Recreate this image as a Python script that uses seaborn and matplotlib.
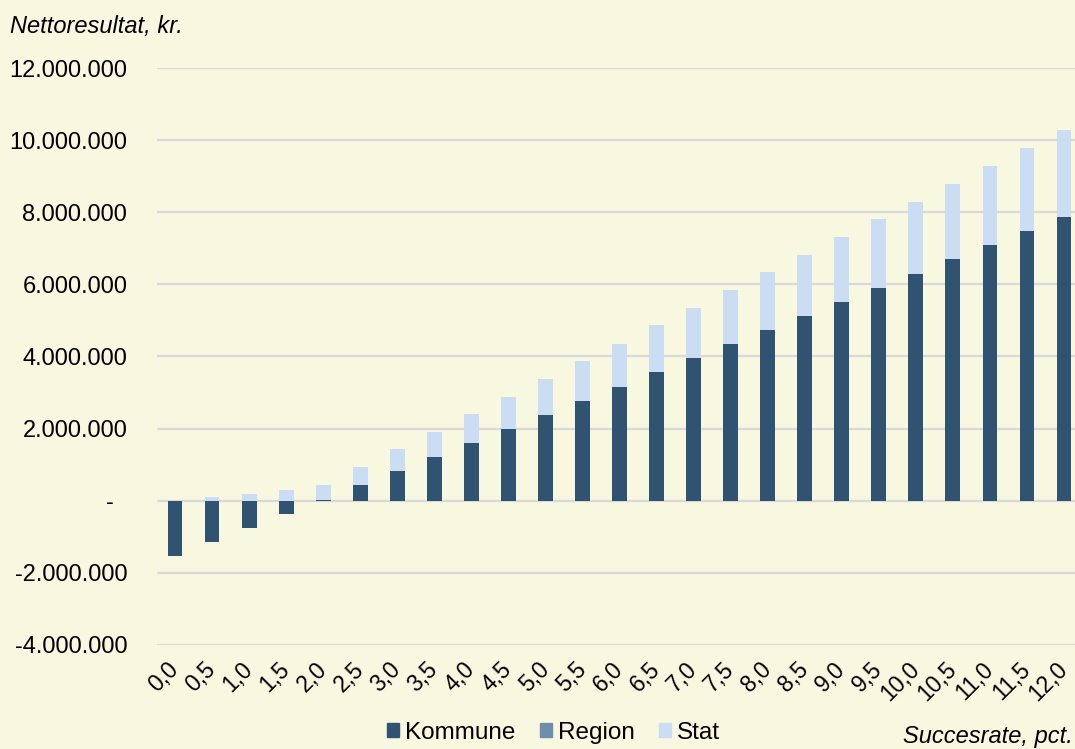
import matplotlib
matplotlib.use("Agg")
import matplotlib.pyplot as plt
from matplotlib.patches import Patch
from matplotlib.ticker import FuncFormatter
import numpy as np
import pandas as pd
import seaborn as sns

# succesrate (pct.) and net result split by payer, in mio. kr.
rates = ["0,0", "0,5", "1,0", "1,5", "2,0", "2,5", "3,0", "3,5", "4,0", "4,5",
         "5,0", "5,5", "6,0", "6,5", "7,0", "7,5", "8,0", "8,5", "9,0", "9,5",
         "10,0", "10,5", "11,0", "11,5", "12,0"]
kommune = [-1.53, -1.14, -0.75, -0.36, 0.03, 0.43, 0.82, 1.21, 1.60, 1.99,
           2.38, 2.77, 3.16, 3.56, 3.95, 4.34, 4.73, 5.12, 5.51, 5.90,
           6.29, 6.69, 7.08, 7.47, 7.87]
region = [0.0] * 25
stat = [0.0, 0.10, 0.20, 0.30, 0.40, 0.50, 0.61, 0.70, 0.80, 0.90,
        1.00, 1.10, 1.20, 1.30, 1.40, 1.50, 1.60, 1.70, 1.80, 1.90,
        2.00, 2.10, 2.20, 2.30, 2.41]

bg = "#F8F7E0"
c_kom = "#2F5370"
c_reg = "#6F8DAD"
c_stat = "#CBDDF2"

sns.set_style("white")
plt.rcParams["font.family"] = ["Liberation Sans", "DejaVu Sans"]
plt.rcParams["text.color"] = "black"
plt.rcParams["xtick.color"] = "black"
plt.rcParams["ytick.color"] = "black"

df = pd.DataFrame({"rate": rates, "kommune": kommune, "region": region, "stat": stat})
pos_base = np.clip(df["kommune"], 0, None)
df["reg_top"] = (pos_base + df["region"]) * 1e6
df["stat_top"] = (pos_base + df["region"] + df["stat"]) * 1e6
df["kom"] = df["kommune"] * 1e6

fig = plt.figure(figsize=(10.75, 7.49), dpi=100, facecolor=bg)
ax = fig.add_axes([0.1456, 0.1389, 0.8614, 0.7703], facecolor=bg)

# draw back to front so the segments look stacked
sns.barplot(data=df, x="rate", y="stat_top", color=c_stat, saturation=1, width=0.4,
            linewidth=0, ax=ax, zorder=2)
sns.barplot(data=df, x="rate", y="reg_top", color=c_reg, saturation=1, width=0.4,
            linewidth=0, ax=ax, zorder=3)
sns.barplot(data=df, x="rate", y="kom", color=c_kom, saturation=1, width=0.4,
            linewidth=0, ax=ax, zorder=4)

ax.set_xlim(-0.5, len(rates) - 0.5)
ax.set_ylim(-4e6, 12e6)
ax.set_yticks(np.arange(-4e6, 12e6 + 1, 2e6))


def fmt(v, p):
    if abs(v) < 1:
        return "-  "
    return f"{v:,.0f}".replace(",", ".")


ax.yaxis.set_major_formatter(FuncFormatter(fmt))
ax.yaxis.grid(True, color="#D9D9D9", lw=1.6, zorder=0)
ax.set_axisbelow(True)
for s in ax.spines.values():
    s.set_visible(False)
ax.tick_params(axis="y", length=0, pad=21, labelsize=17)
ax.tick_params(axis="x", length=0, pad=15, labelsize=16.5)
plt.setp(ax.get_xticklabels(), rotation=45, ha="right", va="center", rotation_mode="anchor")
ax.set_xlabel("")
ax.set_ylabel("")

fig.text(0.009, 1 - 33 / 749, "Nettoresultat, kr.", fontsize=17, style="italic", va="baseline")
fig.text(0.998, 1 - 743 / 749, "Succesrate, pct.", fontsize=17, style="italic", ha="right", va="baseline")

handles = [Patch(color=c_kom, label="Kommune"), Patch(color=c_reg, label="Region"),
           Patch(color=c_stat, label="Stat")]
fig.legend(handles=handles, loc="lower center", bbox_to_anchor=(0.515, -0.022), ncol=3,
           frameon=False, fontsize=17.5, handlelength=0.5, handleheight=0.5,
           handletextpad=0.25, columnspacing=1.0)

fig.savefig("out.png", dpi=100, facecolor=bg)
